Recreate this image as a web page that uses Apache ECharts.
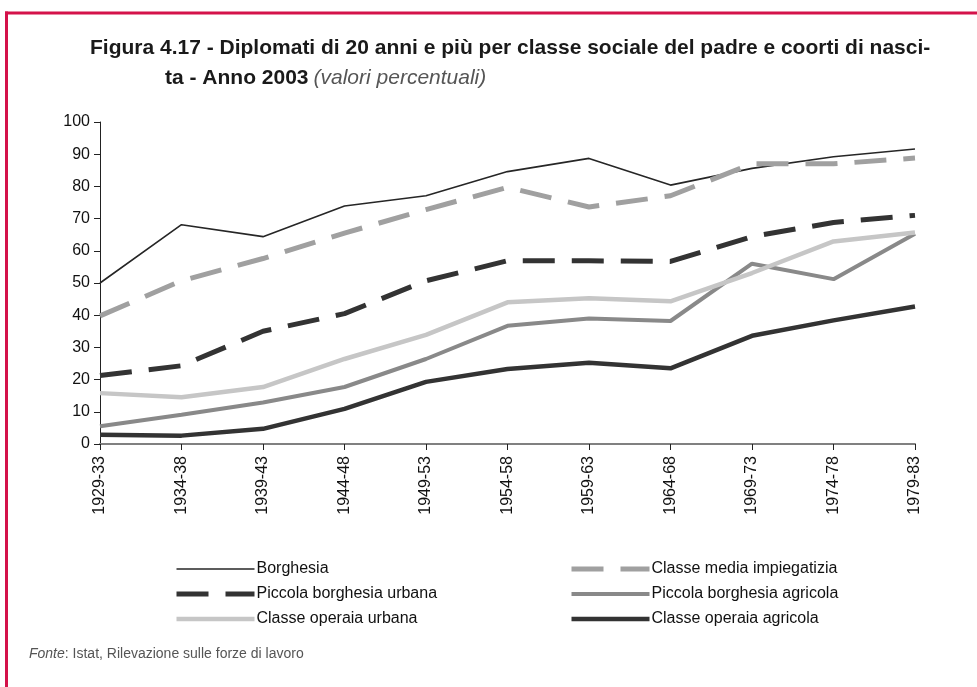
<!DOCTYPE html>
<html>
<head>
<meta charset="utf-8">
<style>
  html, body { margin: 0; padding: 0; background: #fff; }
  #chart { width: 977px; height: 687px; }
</style>
<script src="https://cdn.jsdelivr.net/npm/echarts@6/dist/echarts.min.js"></script>
</head>
<body>
<div id="chart"></div>
<script>
// Coorti di nascita
const cohorts = ['1929-33', '1934-38', '1939-43', '1944-48', '1949-53', '1954-58',
                 '1959-63', '1964-68', '1969-73', '1974-78', '1979-83'];

// Quota di diplomati (%) per classe sociale del padre
const borghesia          = [50.0, 68.1, 64.4, 73.9, 77.1, 84.6, 88.7, 80.4, 85.6, 89.2, 91.6];
const classeMedia        = [39.8, 50.7, 57.6, 65.5, 72.8, 79.7, 73.6, 77.1, 87.0, 87.0, 88.8];
const piccolaBorgUrbana  = [21.3, 24.3, 35.0, 40.5, 50.7, 56.9, 56.9, 56.7, 64.4, 68.8, 71.0];
const piccolaBorgAgric   = [5.5, 9.1, 12.9, 17.7, 26.4, 36.7, 39.0, 38.2, 56.0, 51.2, 65.3];
const operaiaUrbana      = [15.8, 14.5, 17.7, 26.4, 33.9, 44.0, 45.3, 44.3, 53.1, 62.9, 65.7];
const operaiaAgricola    = [2.9, 2.6, 4.7, 10.9, 19.3, 23.3, 25.2, 23.5, 33.6, 38.4, 42.7];

// Tacche dell'asse verticale
const yTicks = { min: 0, max: 100, interval: 10 };

const seriesNames = ['Borghesia', 'Classe media impiegatizia', 'Piccola borghesia urbana',
                     'Piccola borghesia agricola', 'Classe operaia urbana', 'Classe operaia agricola'];

const DASH = [32, 17];
const FONT = "'Liberation Sans', Arial, Helvetica, sans-serif";

// Stile di ciascuna serie: colore, spessore, tratteggio
const styles = [
  { color: '#262626', width: 1.6, dashed: false },
  { color: '#a0a0a0', width: 5,   dashed: true  },
  { color: '#333333', width: 5,   dashed: true  },
  { color: '#898989', width: 4,   dashed: false },
  { color: '#c6c6c6', width: 4.5, dashed: false },
  { color: '#333333', width: 4.5, dashed: false }
];

function lineStyleOf(i) {
  const s = styles[i];
  return { color: s.color, width: s.width, type: s.dashed ? DASH : 'solid', cap: 'butt' };
}

function line(i, data) {
  return {
    name: seriesNames[i],
    type: 'line',
    data: data,
    symbol: 'none',
    smooth: false,
    lineStyle: lineStyleOf(i),
    itemStyle: { color: styles[i].color },
    emphasis: { disabled: true }
  };
}

function legendItems(indices) {
  return indices.map(i => ({
    name: seriesNames[i],
    lineStyle: lineStyleOf(i),
    itemStyle: { opacity: 0 }
  }));
}

function legendBlock(indices, left) {
  return {
    data: legendItems(indices),
    orient: 'vertical', left: left, top: 556,
    itemWidth: 78, itemHeight: 10, itemGap: 9,
    itemStyle: { opacity: 0 },
    textStyle: { fontFamily: FONT, fontSize: 16, color: '#111', padding: [0, 0, 0, -3] },
    selectedMode: false
  };
}

const chart = echarts.init(document.getElementById('chart'), null, { renderer: 'canvas' });

chart.setOption({
  animation: false,
  backgroundColor: '#ffffff',
  title: [
    {
      text: 'Figura 4.17 - Diplomati di 20 anni e più per classe sociale del padre e coorti di nasci-',
      left: 85, top: 33,
      textStyle: { fontFamily: FONT, fontWeight: 'bold', fontSize: 21, color: '#1a1a1a' }
    },
    {
      text: '{b|ta - Anno 2003} {i|(valori percentuali)}',
      left: 160, top: 63,
      textStyle: {
        rich: {
          b: { fontFamily: FONT, fontWeight: 'bold', fontSize: 21, color: '#1a1a1a' },
          i: { fontFamily: FONT, fontStyle: 'italic', fontWeight: 'normal', fontSize: 21, color: '#555555' }
        }
      }
    },
    {
      text: '{i|Fonte}: Istat, Rilevazione sulle forze di lavoro',
      left: 24, top: 642,
      textStyle: {
        fontFamily: FONT, fontSize: 14, fontWeight: 'normal', color: '#555555',
        rich: { i: { fontFamily: FONT, fontSize: 14, fontStyle: 'italic', color: '#555555' } }
      }
    }
  ],
  grid: { left: 100, right: 62, top: 122, bottom: 243, containLabel: false },
  legend: [
    legendBlock([0, 2, 4], 169),
    legendBlock([1, 3, 5], 564)
  ],
  xAxis: {
    type: 'category',
    data: cohorts,
    boundaryGap: false,
    axisLine: { lineStyle: { color: '#808080', width: 2 } },
    axisTick: { show: true, length: 6, lineStyle: { color: '#222', width: 1 } },
    axisLabel: { rotate: 90, margin: 12, fontFamily: FONT, fontSize: 16, color: '#111' },
    splitLine: { show: false }
  },
  yAxis: {
    type: 'value',
    min: yTicks.min, max: yTicks.max, interval: yTicks.interval,
    axisLine: { show: true, lineStyle: { color: '#222', width: 1 } },
    axisTick: { show: true, length: 6, lineStyle: { color: '#222', width: 1 } },
    axisLabel: { margin: 10, fontFamily: FONT, fontSize: 16, color: '#111' },
    splitLine: { show: false }
  },
  series: [
    line(0, borghesia),
    line(1, classeMedia),
    line(2, piccolaBorgUrbana),
    line(3, piccolaBorgAgric),
    line(4, operaiaUrbana),
    line(5, operaiaAgricola)
  ],
  graphic: [
    // Cornice della figura: filetto superiore e sinistro
    { type: 'line', shape: { x1: 5, y1: 13, x2: 977, y2: 13 }, style: { stroke: '#d4124a', lineWidth: 3 }, silent: true },
    { type: 'line', shape: { x1: 6.5, y1: 11.5, x2: 6.5, y2: 687 }, style: { stroke: '#d4124a', lineWidth: 3 }, silent: true }
  ]
});
</script>
</body>
</html>
